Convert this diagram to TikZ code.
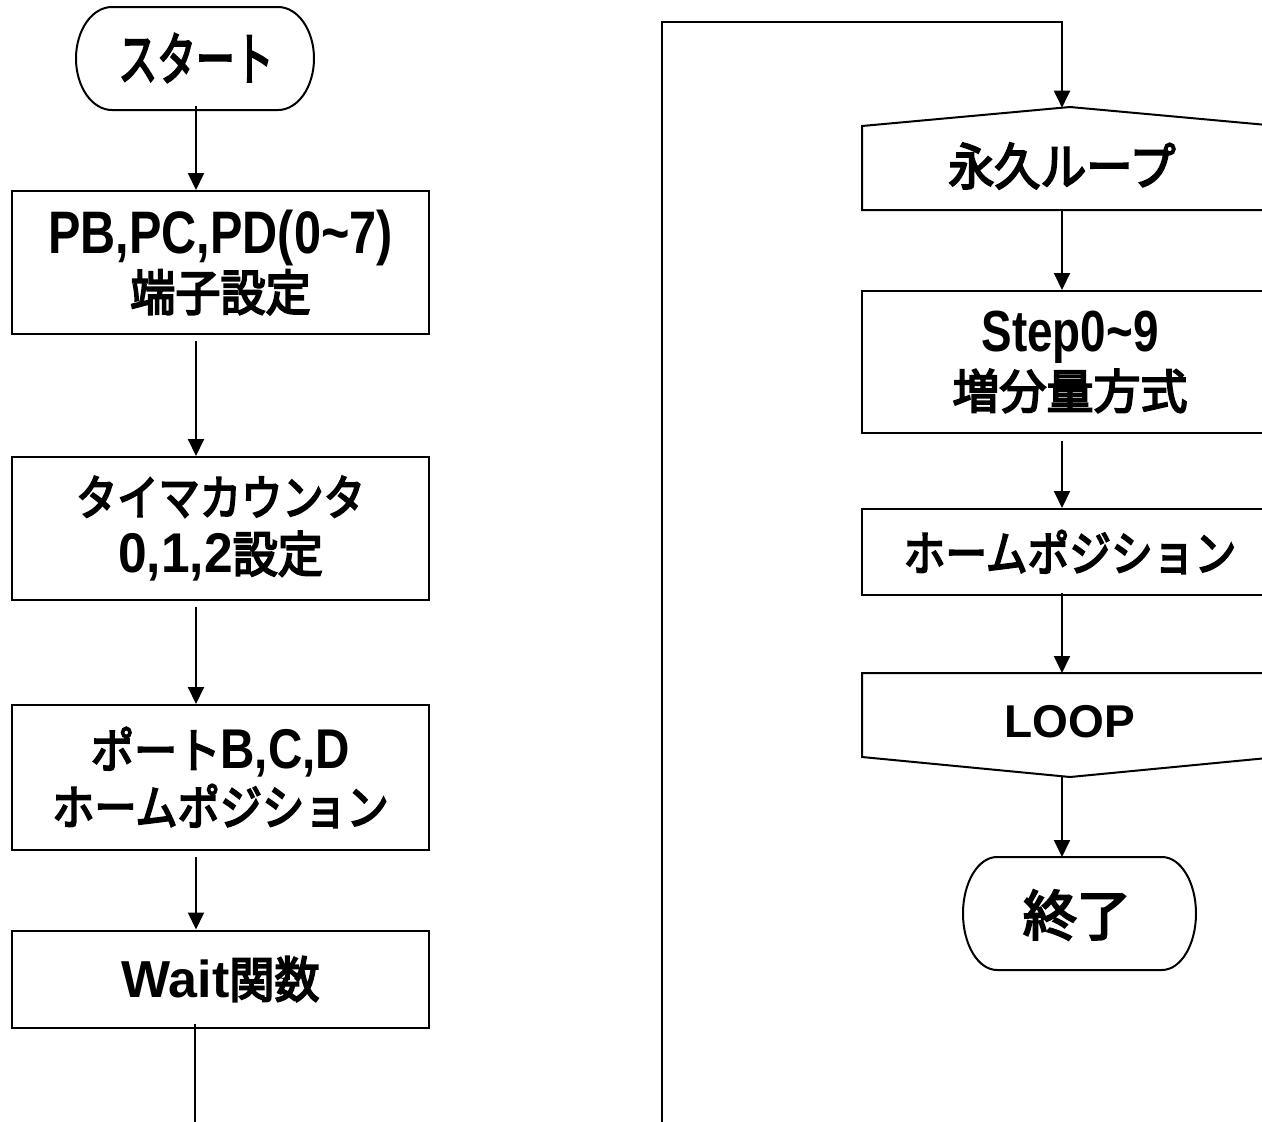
\documentclass[tikz,border=0pt]{standalone}
\usepackage{fontspec}
\usepackage{graphicx}
\setmainfont{Liberation Sans}
\newfontfamily\jpf{Noto Sans CJK JP}[FakeBold=4]
\usetikzlibrary{arrows.meta}
\newcommand\JP[3][1]{\scalebox{#1}[1]{\jpf\fontsize{#2}{#2}\selectfont #3}}
\newcommand\LT[3]{\scalebox{#2}[1]{\fontsize{#1}{#1}\selectfont\bfseries #3}}
\tikzset{
  ln/.style={line width=2pt, line join=miter},
  arr/.style={line width=2pt, -{Triangle[length=17pt,width=16pt]}},
  box/.style={draw, line width=2pt, minimum width=417pt, inner sep=0pt, align=center,
    font=\fontsize{45}{57}\selectfont},
  txt/.style={inner sep=0pt, align=center}
}
\begin{document}
\begin{tikzpicture}[x=1pt,y=-1pt]
\useasboundingbox (0,0) rectangle (1262,1122);
% ---------- left column ----------
\draw[ln] (112,7) -- (278,7) arc[start angle=-90,end angle=90,x radius=36,y radius=51.5]
  -- (112,110) arc[start angle=90,end angle=270,x radius=36,y radius=51.5] -- cycle;
\node[txt] (start) at (196,58) {\JP[0.68]{57}{スタート}};
\node[box, minimum height=143pt] (b1) at (220.5,262.5)
  {\LT{60}{0.81}{PB,PC,PD(0\textasciitilde7)}\\\JP[0.92]{49}{端子設定}};
\node[box, minimum height=143pt] (b2) at (220.5,528.5)
  {\JP[0.86]{48}{タイマカウンタ}\\\LT{56}{0.92}{0,1,2}\JP[0.92]{49}{設定}};
\node[box, minimum height=145pt] (b3) at (220.5,777.5)
  {\JP[0.9]{48}{ポート}\LT{56}{0.85}{B,C,D}\\\JP[0.88]{48}{ホームポジション}};
\node[box, minimum height=97pt] (b4) at (220.5,979)
  {\LT{52}{1}{Wait}\JP[0.92]{49}{関数}};
\coordinate (lb) at (195,1122);
\draw[arr] ([yshift=4pt]start.south |- 0,110) -- (b1.north -| start);
\draw[arr] ([yshift=-6pt]b1.south -| start) -- (b2.north -| start);
\draw[arr] ([yshift=-6pt]b2.south -| start) -- (b3.north -| start);
\draw[arr] ([yshift=-6pt]b3.south -| start) -- (b4.north -| start);
\draw[ln] ([yshift=5pt]b4.south -| lb) -- (lb);
% ---------- right column ----------
\coordinate (rb) at (662,1122);
\coordinate (rt) at (662,22);
\coordinate (pk) at (1062,107.7);
\draw[ln] (862,126) -- (1070,107) -- (1278,126) -- (1278,210) -- (862,210) -- cycle;
\node[txt] (la) at (1062,166) {\JP[0.92]{50}{永久ループ}};
\coordinate (laB) at (1062,210);
\node[box, minimum height=142pt] (r1) at (1070,362)
  {\LT{58}{0.79}{Step0\textasciitilde9}\\\JP{47}{増分量方式}};
\node[box, minimum height=86pt] (r2) at (1070,552) {\JP[0.87]{48}{ホームポジション}};
\draw[ln] (862,673) -- (1278,673) -- (1278,757) -- (1070,777) -- (862,757) -- cycle;
\node[txt] (lp) at (1070,721.5) {\LT{46}{1}{LOOP}};
\coordinate (lbT) at (1062,673);
\coordinate (lbB) at (1062,776);
\draw[ln] (997,857) -- (1162,857) arc[start angle=-90,end angle=90,x radius=34,y radius=56.5]
  -- (997,970) arc[start angle=90,end angle=270,x radius=34,y radius=56.5] -- cycle;
\node[txt] (end) at (1077,915) {\JP{54}{終了}};
\coordinate (endT) at (1062,857);
\draw[arr] (rb) -- (rt) -| (pk);
\draw[arr] (laB) -- (r1.north -| laB);
\draw[arr] ([yshift=-7pt]r1.south -| laB) -- (r2.north -| laB);
\draw[arr] ([yshift=3pt]r2.south -| laB) -- (lbT);
\draw[arr] (lbB) -- (endT);
\end{tikzpicture}
\end{document}
